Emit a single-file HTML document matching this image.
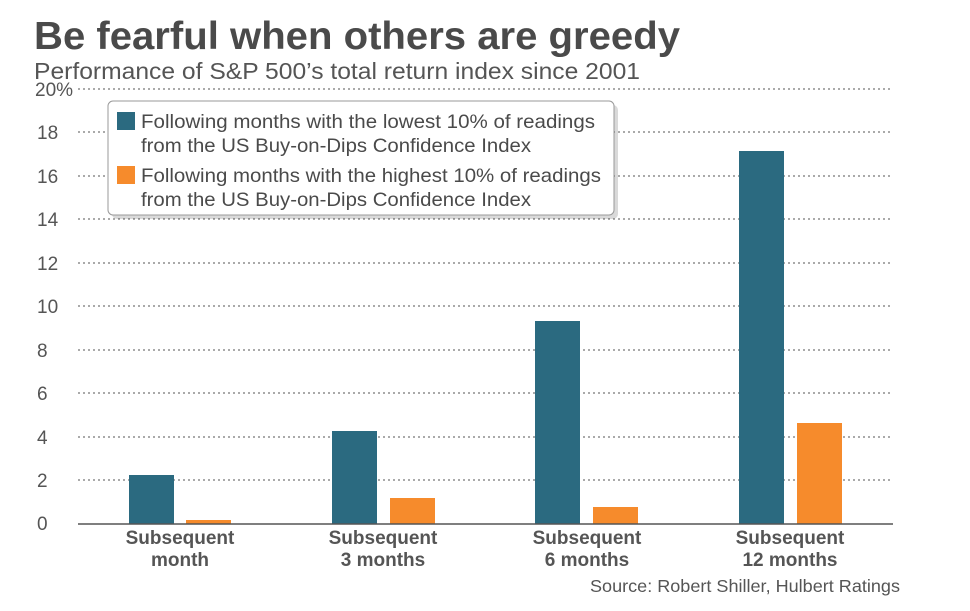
<!DOCTYPE html>
<html><head><meta charset="utf-8"><style>
body{margin:0;background:#fff;width:970px;height:606px;overflow:hidden;font-family:"Liberation Sans",sans-serif}
</style></head><body>
<svg width="970" height="606" xmlns="http://www.w3.org/2000/svg" font-family="Liberation Sans, sans-serif">
<text x="34" y="49" font-size="39" font-weight="bold" fill="#4a4a4a" textLength="646" lengthAdjust="spacingAndGlyphs">Be fearful when others are greedy</text>
<text x="34" y="79" font-size="23" fill="#555" textLength="606" lengthAdjust="spacingAndGlyphs">Performance of S&amp;P 500’s total return index since 2001</text>
<g stroke="#777" stroke-width="1.3" stroke-dasharray="2,3">
<line x1="78" x2="893" y1="89" y2="89"/><line x1="78" x2="893" y1="132" y2="132"/>
<line x1="78" x2="893" y1="176" y2="176"/><line x1="78" x2="893" y1="219" y2="219"/>
<line x1="78" x2="893" y1="263" y2="263"/><line x1="78" x2="893" y1="306" y2="306"/>
<line x1="78" x2="893" y1="350" y2="350"/><line x1="78" x2="893" y1="393" y2="393"/>
<line x1="78" x2="893" y1="437" y2="437"/><line x1="78" x2="893" y1="480" y2="480"/>
</g>
<g font-size="19" fill="#555">
<text x="35" y="96">20%</text><text x="37" y="139">18</text><text x="37" y="183">16</text>
<text x="37" y="226">14</text><text x="37" y="270">12</text><text x="37" y="313">10</text>
<text x="37" y="357">8</text><text x="37" y="400">6</text><text x="37" y="444">4</text>
<text x="37" y="487">2</text><text x="37" y="530">0</text>
</g>
<g fill="#2b6a80">
<rect x="129" y="475" width="45" height="49"/><rect x="332" y="431" width="45" height="93"/>
<rect x="535" y="321" width="45" height="203"/><rect x="739" y="151" width="45" height="373"/>
</g>
<g fill="#f68b2c">
<rect x="186" y="520" width="45" height="4"/><rect x="390" y="498" width="45" height="26"/>
<rect x="593" y="507" width="45" height="17"/><rect x="797" y="423" width="45" height="101"/>
</g>
<line x1="78" x2="893" y1="524" y2="524" stroke="#555" stroke-width="1.5"/>
<g font-size="19" font-weight="bold" fill="#555" text-anchor="middle">
<text x="180" y="544">Subsequent</text><text x="180" y="566">month</text>
<text x="383" y="544">Subsequent</text><text x="383" y="566">3 months</text>
<text x="587" y="544">Subsequent</text><text x="587" y="566">6 months</text>
<text x="790" y="544">Subsequent</text><text x="790" y="566">12 months</text>
</g>
<text x="900" y="592" font-size="17.5" fill="#555" text-anchor="end" textLength="310" lengthAdjust="spacingAndGlyphs">Source: Robert Shiller, Hulbert Ratings</text>
<rect x="110" y="102" width="506" height="114" rx="5" fill="#000" opacity="0.15" transform="translate(2,3)"/>
<rect x="108" y="101" width="506" height="114" rx="5" fill="#fff" stroke="#999" stroke-width="1"/>
<rect x="117" y="112" width="18" height="18" fill="#2b6a80"/>
<rect x="117" y="166" width="18" height="18" fill="#f68b2c"/>
<g font-size="19.5" fill="#4a4a4a">
<text x="141" y="128" textLength="454" lengthAdjust="spacingAndGlyphs">Following months with the lowest 10% of readings</text>
<text x="141" y="152" textLength="390" lengthAdjust="spacingAndGlyphs">from the US Buy-on-Dips Confidence Index</text>
<text x="141" y="182" textLength="460" lengthAdjust="spacingAndGlyphs">Following months with the highest 10% of readings</text>
<text x="141" y="206" textLength="390" lengthAdjust="spacingAndGlyphs">from the US Buy-on-Dips Confidence Index</text>
</g>
</svg>
</body></html>
